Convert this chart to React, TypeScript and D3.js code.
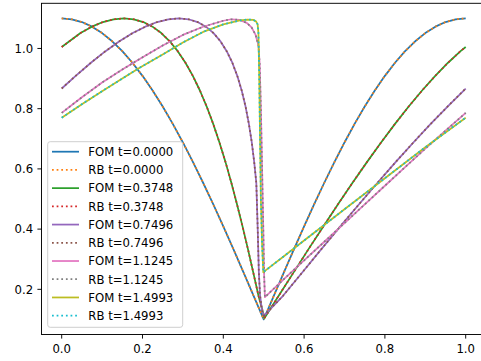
import React from 'react';
import * as d3 from 'd3';

// ---- data ----
const timeLabels = ['0.0000', '0.3748', '0.7496', '1.1245', '1.4993'];
const fomColors = ['#1f77b4', '#2ca02c', '#9467bd', '#e377c2', '#bcbd22'];
const rbColors = ['#ff7f0e', '#d62728', '#8c564b', '#7f7f7f', '#17becf'];

const xT0 = [0, 0.025, 0.05, 0.075, 0.1, 0.125, 0.15, 0.175, 0.2, 0.225, 0.25, 0.275, 0.3, 0.325, 0.35, 0.375, 0.4, 0.425, 0.45, 0.475, 0.5,
  0.525, 0.55, 0.575, 0.6, 0.625, 0.65, 0.675, 0.7, 0.725, 0.75, 0.775, 0.8, 0.825, 0.85, 0.875, 0.9, 0.925, 0.95, 0.975, 1.0];
const yT0 = [1.1, 1.0969, 1.0877, 1.0724, 1.0511, 1.0239, 0.991, 0.9526, 0.909, 0.8604, 0.8071, 0.7495, 0.6878, 0.6225, 0.554, 0.4827, 0.409, 0.3335, 0.2564, 0.1785, 0.1,
  0.1785, 0.2564, 0.3335, 0.409, 0.4827, 0.554, 0.6225, 0.6878, 0.7495, 0.8071, 0.8604, 0.909, 0.9526, 0.991, 1.0239, 1.0511, 1.0724, 1.0877, 1.0969, 1.1];

const xT1 = [0, 0.0465, 0.0747, 0.102, 0.1285, 0.154, 0.1785, 0.202, 0.2247, 0.2465, 0.2673, 0.2872, 0.3063, 0.3246, 0.3421, 0.3589, 0.375, 0.3905, 0.4055, 0.4199, 0.4339, 0.4476, 0.461, 0.4741, 0.4871, 0.502,
  0.5371, 0.5741, 0.6109, 0.6476, 0.6839, 0.7199, 0.7555, 0.7905, 0.825, 0.8589, 0.8921, 0.9246, 0.9563, 0.9872, 1.0];
const yT1 = [1.005, 1.0511, 1.0724, 1.0877, 1.0969, 1.1, 1.0969, 1.0877, 1.0724, 1.0511, 1.0239, 0.991, 0.9526, 0.909, 0.8604, 0.8071, 0.7495, 0.6878, 0.6225, 0.554, 0.4827, 0.409, 0.3335, 0.2564, 0.1785, 0.105,
  0.1785, 0.2564, 0.3335, 0.409, 0.4827, 0.554, 0.6225, 0.6878, 0.7495, 0.8071, 0.8604, 0.909, 0.9526, 0.991, 1.005];

const xT2 = [0, 0.0346, 0.0723, 0.1084, 0.1429, 0.1758, 0.207, 0.2364, 0.2641, 0.29, 0.3141, 0.3364, 0.357, 0.3758, 0.3929, 0.4084, 0.4223, 0.4346, 0.4455, 0.4551, 0.4633, 0.4705, 0.4765, 0.4817, 0.485, 0.488, 0.491, 0.496, 0.501,
  0.5478, 0.5954, 0.6427, 0.6896, 0.736, 0.7817, 0.8265, 0.8705, 0.9133, 0.9551, 1.0];
const yT2 = [0.867, 0.909, 0.9526, 0.991, 1.0239, 1.0511, 1.0724, 1.0877, 1.0969, 1.1, 1.0969, 1.0877, 1.0724, 1.0511, 1.0239, 0.991, 0.9526, 0.909, 0.8604, 0.8071, 0.7495, 0.6878, 0.6225, 0.554, 0.409, 0.256, 0.18, 0.128, 0.113,
  0.1785, 0.256, 0.3335, 0.409, 0.4827, 0.554, 0.6225, 0.6878, 0.7495, 0.8071, 0.867];

const xT3 = [0, 0.05, 0.1, 0.15, 0.194, 0.25, 0.3, 0.35, 0.4, 0.42, 0.44, 0.458, 0.47, 0.48, 0.487, 0.49, 0.493, 0.496, 0.499, 0.501, 0.503,
  0.55, 0.6, 0.65, 0.7, 0.75, 0.8, 0.85, 0.9, 0.95, 1.0];
const yT3 = [0.786, 0.838, 0.887, 0.93, 0.966, 1.01, 1.045, 1.072, 1.092, 1.097, 1.095, 1.085, 1.07, 1.045, 1.01, 0.95, 0.8, 0.6, 0.4, 0.25, 0.174,
  0.234, 0.296, 0.358, 0.42, 0.482, 0.544, 0.606, 0.667, 0.727, 0.786];

const xT4 = [0, 0.05, 0.1, 0.15, 0.194, 0.25, 0.3, 0.35, 0.4, 0.441, 0.46, 0.474, 0.481, 0.485, 0.487, 0.489, 0.491, 0.493, 0.496, 0.499,
  0.55, 0.6, 0.7, 0.8, 0.9, 1.0];
const yT4 = [0.77, 0.815, 0.858, 0.9, 0.937, 0.98, 1.02, 1.055, 1.08, 1.093, 1.096, 1.095, 1.09, 1.08, 1.05, 0.9, 0.7, 0.5, 0.35, 0.257,
  0.31, 0.362, 0.466, 0.569, 0.672, 0.77];

const seriesX = [xT0, xT1, xT2, xT3, xT4];
const seriesY = [yT0, yT1, yT2, yT3, yT4];

const xTicks = [0, 0.2, 0.4, 0.6, 0.8, 1.0];
const yTicks = [0.2, 0.4, 0.6, 0.8, 1.0];

// ---- layout ----
const W = 481, H = 361;
const L = 41.5, R = 485.9, T = 3.3, B = 334.5;
const FONT = 'DejaVu Sans, sans-serif';
const FS = 11.7;
const LW = 1.75;

export default function App() {
  const x = d3.scaleLinear().domain([-0.05, 1.05]).range([L, R]);
  const y = d3.scaleLinear().domain([0.05, 1.15]).range([B, T]);
  const line = d3.line<[number, number]>().x(d => x(d[0])).y(d => y(d[1]));

  const paths = seriesX.map((xs, i) => line(xs.map((v, j) => [v, seriesY[i][j]] as [number, number])) || '');

  const legendTop = 141.7, legendLeft = 47.7, legendW = 135, legendH = 185.6;
  const entry0 = 151.7, entryStep = 18.22;
  const entries: { label: string; color: string; dotted: boolean }[] = [];
  timeLabels.forEach((t, i) => {
    entries.push({ label: `FOM t=${t}`, color: fomColors[i], dotted: false });
    entries.push({ label: `RB t=${t}`, color: rbColors[i], dotted: true });
  });

  return (
    <svg width={W} height={H} style={{ position: 'absolute', left: 0, top: 0, display: 'block', background: '#fff' }}
      xmlns="http://www.w3.org/2000/svg">
      <defs>
        <clipPath id="plotclip">
          <rect x={L} y={T} width={R - L} height={B - T} />
        </clipPath>
      </defs>
      <rect x={0} y={0} width={W} height={H} fill="#fff" />
      <g clipPath="url(#plotclip)">
        {paths.map((p, i) => (
          <g key={i}>
            <path d={p} fill="none" stroke={fomColors[i]} strokeWidth={LW} strokeLinejoin="round" strokeLinecap="butt" />
            <path d={p} fill="none" stroke={rbColors[i]} strokeWidth={LW} strokeDasharray={`${LW} ${LW * 1.65}`} strokeLinejoin="round" strokeLinecap="butt" />
          </g>
        ))}
      </g>
      {/* spines */}
      <rect x={L} y={T} width={R - L} height={B - T} fill="none" stroke="#000" strokeWidth={0.94} />
      {/* x ticks */}
      {xTicks.map(t => (
        <g key={'x' + t}>
          <line x1={x(t)} x2={x(t)} y1={B} y2={B + 4.1} stroke="#000" strokeWidth={0.94} />
          <text x={x(t)} y={353.3} textAnchor="middle" fontFamily={FONT} fontSize={FS} fill="#000">{t.toFixed(1)}</text>
        </g>
      ))}
      {/* y ticks */}
      {yTicks.map(t => (
        <g key={'y' + t}>
          <line x1={L - 4.1} x2={L} y1={y(t)} y2={y(t)} stroke="#000" strokeWidth={0.94} />
          <text x={33.2} y={y(t) + 4.3} textAnchor="end" fontFamily={FONT} fontSize={FS} fill="#000">{t.toFixed(1)}</text>
        </g>
      ))}
      {/* legend */}
      <rect x={legendLeft} y={legendTop} width={legendW} height={legendH} rx={2.5} ry={2.5}
        fill="#fff" fillOpacity={0.8} stroke="#cccccc" strokeWidth={0.94} />
      {entries.map((e, k) => {
        const cy = entry0 + k * entryStep;
        return (
          <g key={k}>
            <line x1={52} x2={79} y1={cy} y2={cy} stroke={e.color} strokeWidth={LW}
              strokeDasharray={e.dotted ? `${LW} ${LW * 1.65}` : undefined} />
            <text x={88.3} y={cy + 4.3} fontFamily={FONT} fontSize={FS} fill="#000">{e.label}</text>
          </g>
        );
      })}
    </svg>
  );
}
